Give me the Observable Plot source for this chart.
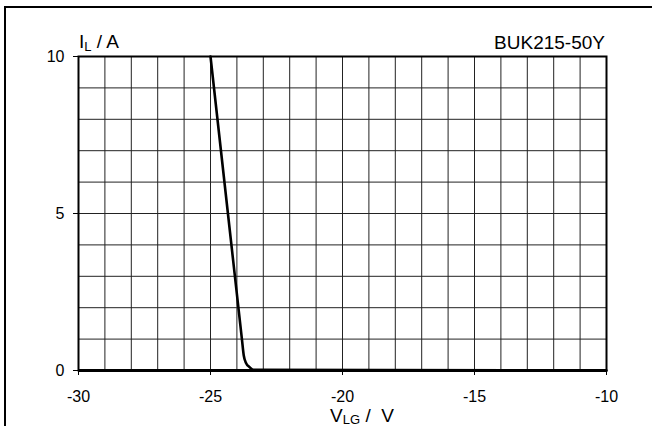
<!DOCTYPE html>
<html>
<head>
<meta charset="utf-8">
<script src="https://cdn.jsdelivr.net/npm/d3@7"></script>
<script src="https://cdn.jsdelivr.net/npm/@observablehq/plot@0.6"></script>
<style>
  html, body { margin: 0; padding: 0; background: #fff; overflow: hidden; }
  #wrap { position: relative; width: 652px; height: 426px; overflow: hidden; }
  #border { position: absolute; left: 4px; top: 6px; width: 800px; height: 600px; border: 2px solid #000; box-sizing: border-box; }
  #chart { position: absolute; left: 0; top: 0; }
  text { font-family: "Liberation Sans", Arial, sans-serif; }
</style>
</head>
<body>
<div id="wrap"><div id="border"></div><div id="chart"></div></div>
<script>
// Curve data (V_LG in V, I_L in A)
const vlg = [-25, -24.34, -23.81, -23.74, -23.66, -23.51, -23.37, -10];
const il  = [10, 5, 1, 0.48, 0.25, 0.1, 0.02, 0];

// Axes / grid
const xTicks = [-30, -25, -20, -15, -10];
const yTicks = [0, 5, 10];
const xGrid = [-30, -29, -28, -27, -26, -25, -24, -23, -22, -21, -20, -19, -18, -17, -16, -15, -14, -13, -12, -11, -10];
const yGrid = [0, 1, 2, 3, 4, 5, 6, 7, 8, 9, 10];

const title = "BUK215-50Y";

const data = vlg.map((v, i) => ({v, i: il[i]}));

const plot = Plot.plot({
  width: 652,
  height: 426,
  marginLeft: 78,
  marginRight: 46,
  marginTop: 56,
  marginBottom: 56,
  style: {fontFamily: "'Liberation Sans', Arial, sans-serif", fontSize: "16px", background: "transparent", color: "#000"},
  x: {domain: [-30, -10], ticks: xTicks, tickSize: 5, tickPadding: 15, label: null, tickFormat: d => String(d)},
  y: {domain: [0, 10], ticks: yTicks, tickSize: 5, tickPadding: 9, label: null},
  marks: [
    Plot.ruleX(xGrid, {stroke: "#222", strokeWidth: 1}),
    Plot.ruleY(yGrid, {stroke: "#222", strokeWidth: 1}),
    Plot.frame({stroke: "#000", strokeWidth: 2}),
    Plot.ruleY([0], {stroke: "#000", strokeWidth: 3}),
    Plot.line(data, {x: "v", y: "i", stroke: "#000", strokeWidth: 2.6, curve: "monotone-x"})
  ]
});

document.getElementById("chart").appendChild(plot);

const sx = plot.scale("x"), sy = plot.scale("y");
const svg = d3.select(plot);
const font = "'Liberation Sans', Arial, sans-serif";

// Y label: I_L / A
const yl = svg.append("text")
  .attr("x", sx.apply(-30) + 1)
  .attr("y", sy.apply(10) - 8)
  .attr("text-anchor", "start")
  .attr("font-family", font).attr("font-size", 19).attr("fill", "#000");
yl.append("tspan").text("I");
yl.append("tspan").attr("font-size", 13).attr("dy", 3).text("L");
yl.append("tspan").attr("dy", -3).text(" / A");

// Title
svg.append("text")
  .attr("x", sx.apply(-10) - 1)
  .attr("y", sy.apply(10) - 7)
  .attr("text-anchor", "end")
  .attr("font-family", font).attr("font-size", 19).attr("fill", "#000")
  .text(title);

// X label: V_LG / V
const xl = svg.append("text")
  .attr("x", sx.apply(-20) + 20)
  .attr("y", sy.apply(0) + 52)
  .attr("text-anchor", "middle")
  .attr("font-family", font).attr("font-size", 19).attr("fill", "#000");
xl.append("tspan").text("V");
xl.append("tspan").attr("font-size", 13).attr("dy", 2).text("LG");
xl.append("tspan").attr("dy", -2).text("\u00a0/\u00a0\u00a0V");
</script>
</body>
</html>
